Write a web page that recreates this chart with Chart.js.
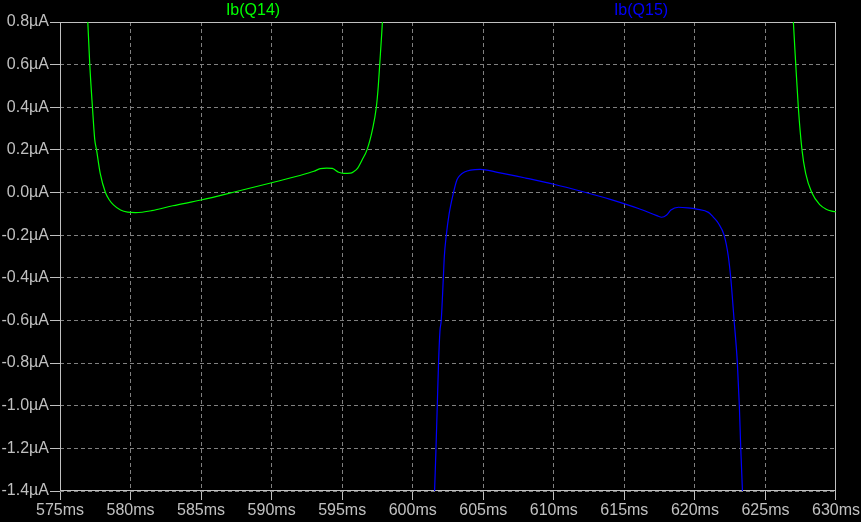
<!DOCTYPE html>
<html>
<head>
<meta charset="utf-8">
<script src="https://cdn.jsdelivr.net/npm/chart.js@4.4.1/dist/chart.umd.min.js"></script>
<style>
  html, body { margin: 0; padding: 0; background: #000; }
  canvas { display: block; }
</style>
</head>
<body>
<canvas id="plot" width="861" height="522"></canvas>
<script>
// Ib(Q14) - two pieces, null splits them
const q14Time = [576.85, 576.97, 577.11, 577.30, 577.46, 577.59, 577.85, 578.22, 578.5, 578.79, 579.29, 579.8, 580.35,
  581.5, 583, 585, 587.5, 590, 592, 593.0, 593.45, 593.9, 594.3, 594.75, 595.1, 595.58, 595.81, 596.1, 596.41,
  596.76, 597.16, 597.42, 597.56, 597.66, 597.85, 597.99,
  null,
  626.85, 626.98, 627.15, 627.33, 627.59, 627.85, 628.28, 628.87, 629.3, 629.7, 630];
const q14Val = [1.0, 0.8, 0.6, 0.4, 0.25, 0.2, 0.09, 0.0, -0.035, -0.058, -0.082, -0.092, -0.094,
  -0.085, -0.062, -0.035, 0.005, 0.046, 0.080, 0.100, 0.112, 0.115, 0.113, 0.095, 0.090, 0.091, 0.098, 0.115, 0.153,
  0.2, 0.3, 0.4, 0.5, 0.6, 0.8, 1.0,
  null,
  1.0, 0.8, 0.6, 0.4, 0.2, 0.09, 0.0, -0.058, -0.078, -0.087, -0.090];

// Ib(Q15)
const q15Time = [601.46, 601.55, 601.65, 601.74, 601.83, 601.93, 602.02, 602.17, 602.24, 602.38, 602.58, 602.89, 603.13,
  603.37, 603.67, 604.1, 604.78, 606, 608, 610, 612, 614, 616, 617.3, 617.65, 618.0, 618.3, 618.83, 619.5,
  620.13, 620.96, 621.3, 621.66, 622.07, 622.37, 622.54, 622.78, 623.01, 623.15, 623.25, 623.37, 623.47];
const q15Val = [-1.6, -1.4, -1.2, -1.0, -0.8, -0.65, -0.6, -0.4, -0.3, -0.2, -0.1, 0.0, 0.059,
  0.082, 0.096, 0.105, 0.109, 0.095, 0.068, 0.039, 0.005, -0.032, -0.075, -0.108, -0.116, -0.105, -0.082, -0.069, -0.072,
  -0.078, -0.093, -0.115, -0.144, -0.2, -0.3, -0.4, -0.6, -0.8, -1.0, -1.2, -1.4, -1.6];

const xTicks = [575, 580, 585, 590, 595, 600, 605, 610, 615, 620, 625, 630];
const yTicks = [-1.4, -1.2, -1.0, -0.8, -0.6, -0.4, -0.2, 0.0, 0.2, 0.4, 0.6, 0.8];

const traceNames = ['Ib(Q14)', 'Ib(Q15)'];
const traceColors = ['#00ff00', '#0000ff'];

const frameColor = '#c0c0c0';
const gridColor = '#808080';
const font = { family: '"Liberation Sans", Arial, sans-serif', size: 16 };

function toPoints(ts, vs) {
  return ts.map((t, i) => (t === null ? { x: NaN, y: null } : { x: t, y: vs[i] }));
}

const scopeLook = {
  id: 'scopeLook',
  beforeDraw(chart) {
    const c = chart.ctx;
    c.save();
    c.fillStyle = '#000';
    c.fillRect(0, 0, chart.width, chart.height);
    c.restore();
  },
  beforeDatasetsDraw(chart) {
    const a = chart.chartArea;
    const c = chart.ctx;
    c.save();
    c.strokeStyle = frameColor;
    c.lineWidth = 1;
    c.strokeRect(Math.round(a.left) + 0.5, Math.round(a.top) + 0.5,
      Math.round(a.right - a.left) - 1, Math.round(a.bottom - a.top) - 1);
    c.restore();
  },
  afterDraw(chart) {
    const c = chart.ctx;
    c.save();
    c.font = '16px ' + font.family;
    c.textAlign = 'center';
    c.textBaseline = 'middle';
    c.fillStyle = traceColors[0];
    c.fillText(traceNames[0], 253, 11);
    c.fillStyle = traceColors[1];
    c.fillText(traceNames[1], 641, 11);
    c.restore();
  }
};

new Chart(document.getElementById('plot'), {
  type: 'line',
  data: {
    datasets: [
      {
        label: traceNames[0],
        data: toPoints(q14Time, q14Val),
        borderColor: traceColors[0],
        borderWidth: 1.2,
        pointRadius: 0,
        spanGaps: false,
        cubicInterpolationMode: 'monotone'
      },
      {
        label: traceNames[1],
        data: toPoints(q15Time, q15Val),
        borderColor: traceColors[1],
        borderWidth: 1.2,
        pointRadius: 0,
        cubicInterpolationMode: 'monotone'
      }
    ]
  },
  options: {
    responsive: false,
    animation: false,
    devicePixelRatio: 1,
    layout: { padding: { top: 22, right: 25, left: 0, bottom: 0 } },
    plugins: { legend: { display: false }, tooltip: { enabled: false } },
    scales: {
      x: {
        type: 'linear',
        min: 575,
        max: 630,
        afterBuildTicks: s => { s.ticks = xTicks.map(v => ({ value: v })); },
        afterFit: s => { s.height = 31; },
        grid: { color: gridColor, tickColor: frameColor, tickLength: 9, tickBorderDash: [] },
        border: { display: false, dash: [4, 3] },
        ticks: {
          color: frameColor,
          font: font,
          padding: 1,
          maxRotation: 0,
          autoSkip: false,
          callback: v => v + 'ms'
        }
      },
      y: {
        min: -1.4,
        max: 0.8,
        afterBuildTicks: s => { s.ticks = yTicks.map(v => ({ value: v })); },
        afterFit: s => { s.width = 60; },
        grid: { color: gridColor, tickColor: frameColor, tickLength: 10, tickBorderDash: [] },
        border: { display: false, dash: [4, 3] },
        ticks: {
          color: frameColor,
          font: font,
          padding: 1,
          autoSkip: false,
          callback: v => v.toFixed(1) + 'µA'
        }
      }
    }
  },
  plugins: [scopeLook]
});
</script>
</body>
</html>
